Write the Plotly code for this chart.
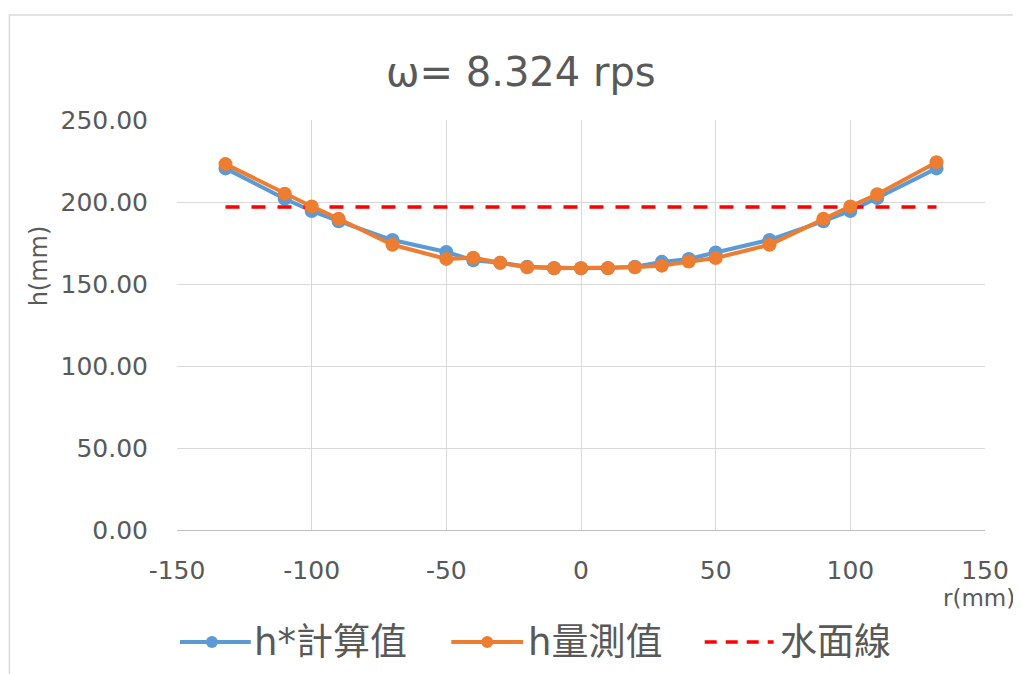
import plotly.graph_objects as go

# ---- data ----
r_mm = [-132, -110, -100, -90, -70, -50, -40, -30, -20, -10, 0,
        10, 20, 30, 40, 50, 70, 90, 100, 110, 132]
h_calc = [220.5, 202.0, 194.5, 188.3, 176.8, 169.5, 164.5, 163.0, 160.5, 159.8, 159.6,
          159.8, 160.5, 163.5, 165.3, 169.2, 176.9, 188.3, 194.5, 202.4, 220.5]
h_meas = [223.1, 205.1, 197.3, 189.8, 173.9, 165.3, 166.0, 162.9, 160.2, 159.6, 159.6,
          159.6, 160.2, 161.2, 163.7, 165.8, 173.9, 189.8, 197.3, 204.7, 224.3]
water_r = [-132, 132]
water_h = [197, 197]
series_names = ["h*計算值", "h量測值", "水面線"]
title_text = "ω= 8.324 rps"
x_title = "r(mm)"
y_title = "h(mm)"
x_ticks = [-150, -100, -50, 0, 50, 100, 150]
x_ticklabels = ["-150", "-100", "-50", "0", "50", "100", "150"]
y_ticks = [0, 50, 100, 150, 200, 250]

BLUE = "#5B9BD5"
ORANGE = "#ED7D31"
RED = "#FF0000"
GRID = "#D9D9D9"
TXT = "#595959"
FONT = "DejaVu Sans, Noto Sans CJK TC, sans-serif"
CJK = "DejaVu Sans, Noto Sans CJK TC, sans-serif"

OFF = 8  # page body margin
W, H = 1021 - OFF, 674 - OFF
# plot area in page pixels
L, R, T, B = 177, 987, 120, 530


def px(xp):
    return (xp - L) / (R - L)


def py(yp):
    return (B - yp) / (B - T)


fig = go.Figure()
fig.add_trace(go.Scatter(x=r_mm, y=h_calc, name=series_names[0], mode="lines+markers",
                         line=dict(color=BLUE, width=4),
                         marker=dict(color=BLUE, size=14), showlegend=False))
fig.add_trace(go.Scatter(x=water_r, y=water_h, name=series_names[2], mode="lines",
                         line=dict(color=RED, width=3.5, dash="14px,12px"), showlegend=False))
fig.add_trace(go.Scatter(x=r_mm, y=h_meas, name=series_names[1], mode="lines+markers",
                         line=dict(color=ORANGE, width=4),
                         marker=dict(color=ORANGE, size=14), showlegend=False))

shapes = [
    dict(type="rect", xref="paper", yref="paper", x0=px(9), x1=px(1060), y0=py(15), y1=py(720),
         line=dict(color=GRID, width=1.5), layer="below"),
]
annotations = [
    dict(text=title_text, xref="paper", yref="paper", x=px(522), y=py(72),
         xanchor="center", yanchor="middle", showarrow=False,
         font=dict(family=FONT, size=40, color=TXT)),
    dict(text=y_title, xref="paper", yref="paper", x=px(39), y=py(266),
         xanchor="center", yanchor="middle", showarrow=False, textangle=-90,
         font=dict(family=FONT, size=24, color=TXT)),
    dict(text=x_title, xref="paper", yref="paper", x=px(943), y=py(598),
         xanchor="left", yanchor="middle", showarrow=False,
         font=dict(family=FONT, size=23, color=TXT)),
]

# custom legend (long line samples like the reference)
legend_items = [
    (series_names[0], BLUE, "solid", 180, 251, 212, 252),
    (series_names[1], ORANGE, "solid", 452, 524, 488, 527),
    (series_names[2], RED, "dash", 706, 775, None, 779),
]
ly = py(642)
for name, col, dash, lx0, lx1, mx, tx in legend_items:
    shapes.append(dict(type="line", xref="paper", yref="paper", x0=px(lx0), x1=px(lx1),
                       y0=ly, y1=ly,
                       line=dict(color=col, width=4 if dash == "solid" else 3.5,
                                 dash="solid" if dash == "solid" else "12px,9px")))
    if mx is not None:
        shapes.append(dict(type="circle", xref="paper", yref="paper",
                           xsizemode="pixel", ysizemode="pixel",
                           xanchor=px(mx), yanchor=ly, x0=-6, x1=6, y0=-6, y1=6,
                           fillcolor=col, line=dict(color=col, width=0)))
    annotations.append(dict(text=name, xref="paper", yref="paper", x=px(tx), y=ly,
                            xanchor="left", yanchor="middle", showarrow=False,
                            font=dict(family=CJK, size=37, color=TXT)))

fig.update_layout(
    width=W, height=H,
    margin=dict(l=L - OFF, r=W - (R - OFF), t=T - OFF, b=H - (B - OFF), pad=0),
    paper_bgcolor="white", plot_bgcolor="white",
    font=dict(family=FONT, color=TXT),
    shapes=shapes, annotations=annotations,
    showlegend=False,
)
fig.update_xaxes(range=[-150, 150], tickvals=x_ticks, ticktext=x_ticklabels,
                 showgrid=True, gridcolor=GRID, gridwidth=1,
                 zeroline=False, showline=True, linecolor="#BFBFBF", linewidth=1,
                 ticks="", ticklabelstandoff=18,
                 tickfont=dict(family=FONT, size=25, color=TXT))
fig.update_yaxes(range=[0, 250], tickvals=y_ticks, tickformat=".2f", showgrid=True,
                 gridcolor=GRID, gridwidth=1, zeroline=False, showline=False,
                 ticks="", ticklabelstandoff=28,
                 tickfont=dict(family=FONT, size=25, color=TXT))

fig.write_html("out.html")
